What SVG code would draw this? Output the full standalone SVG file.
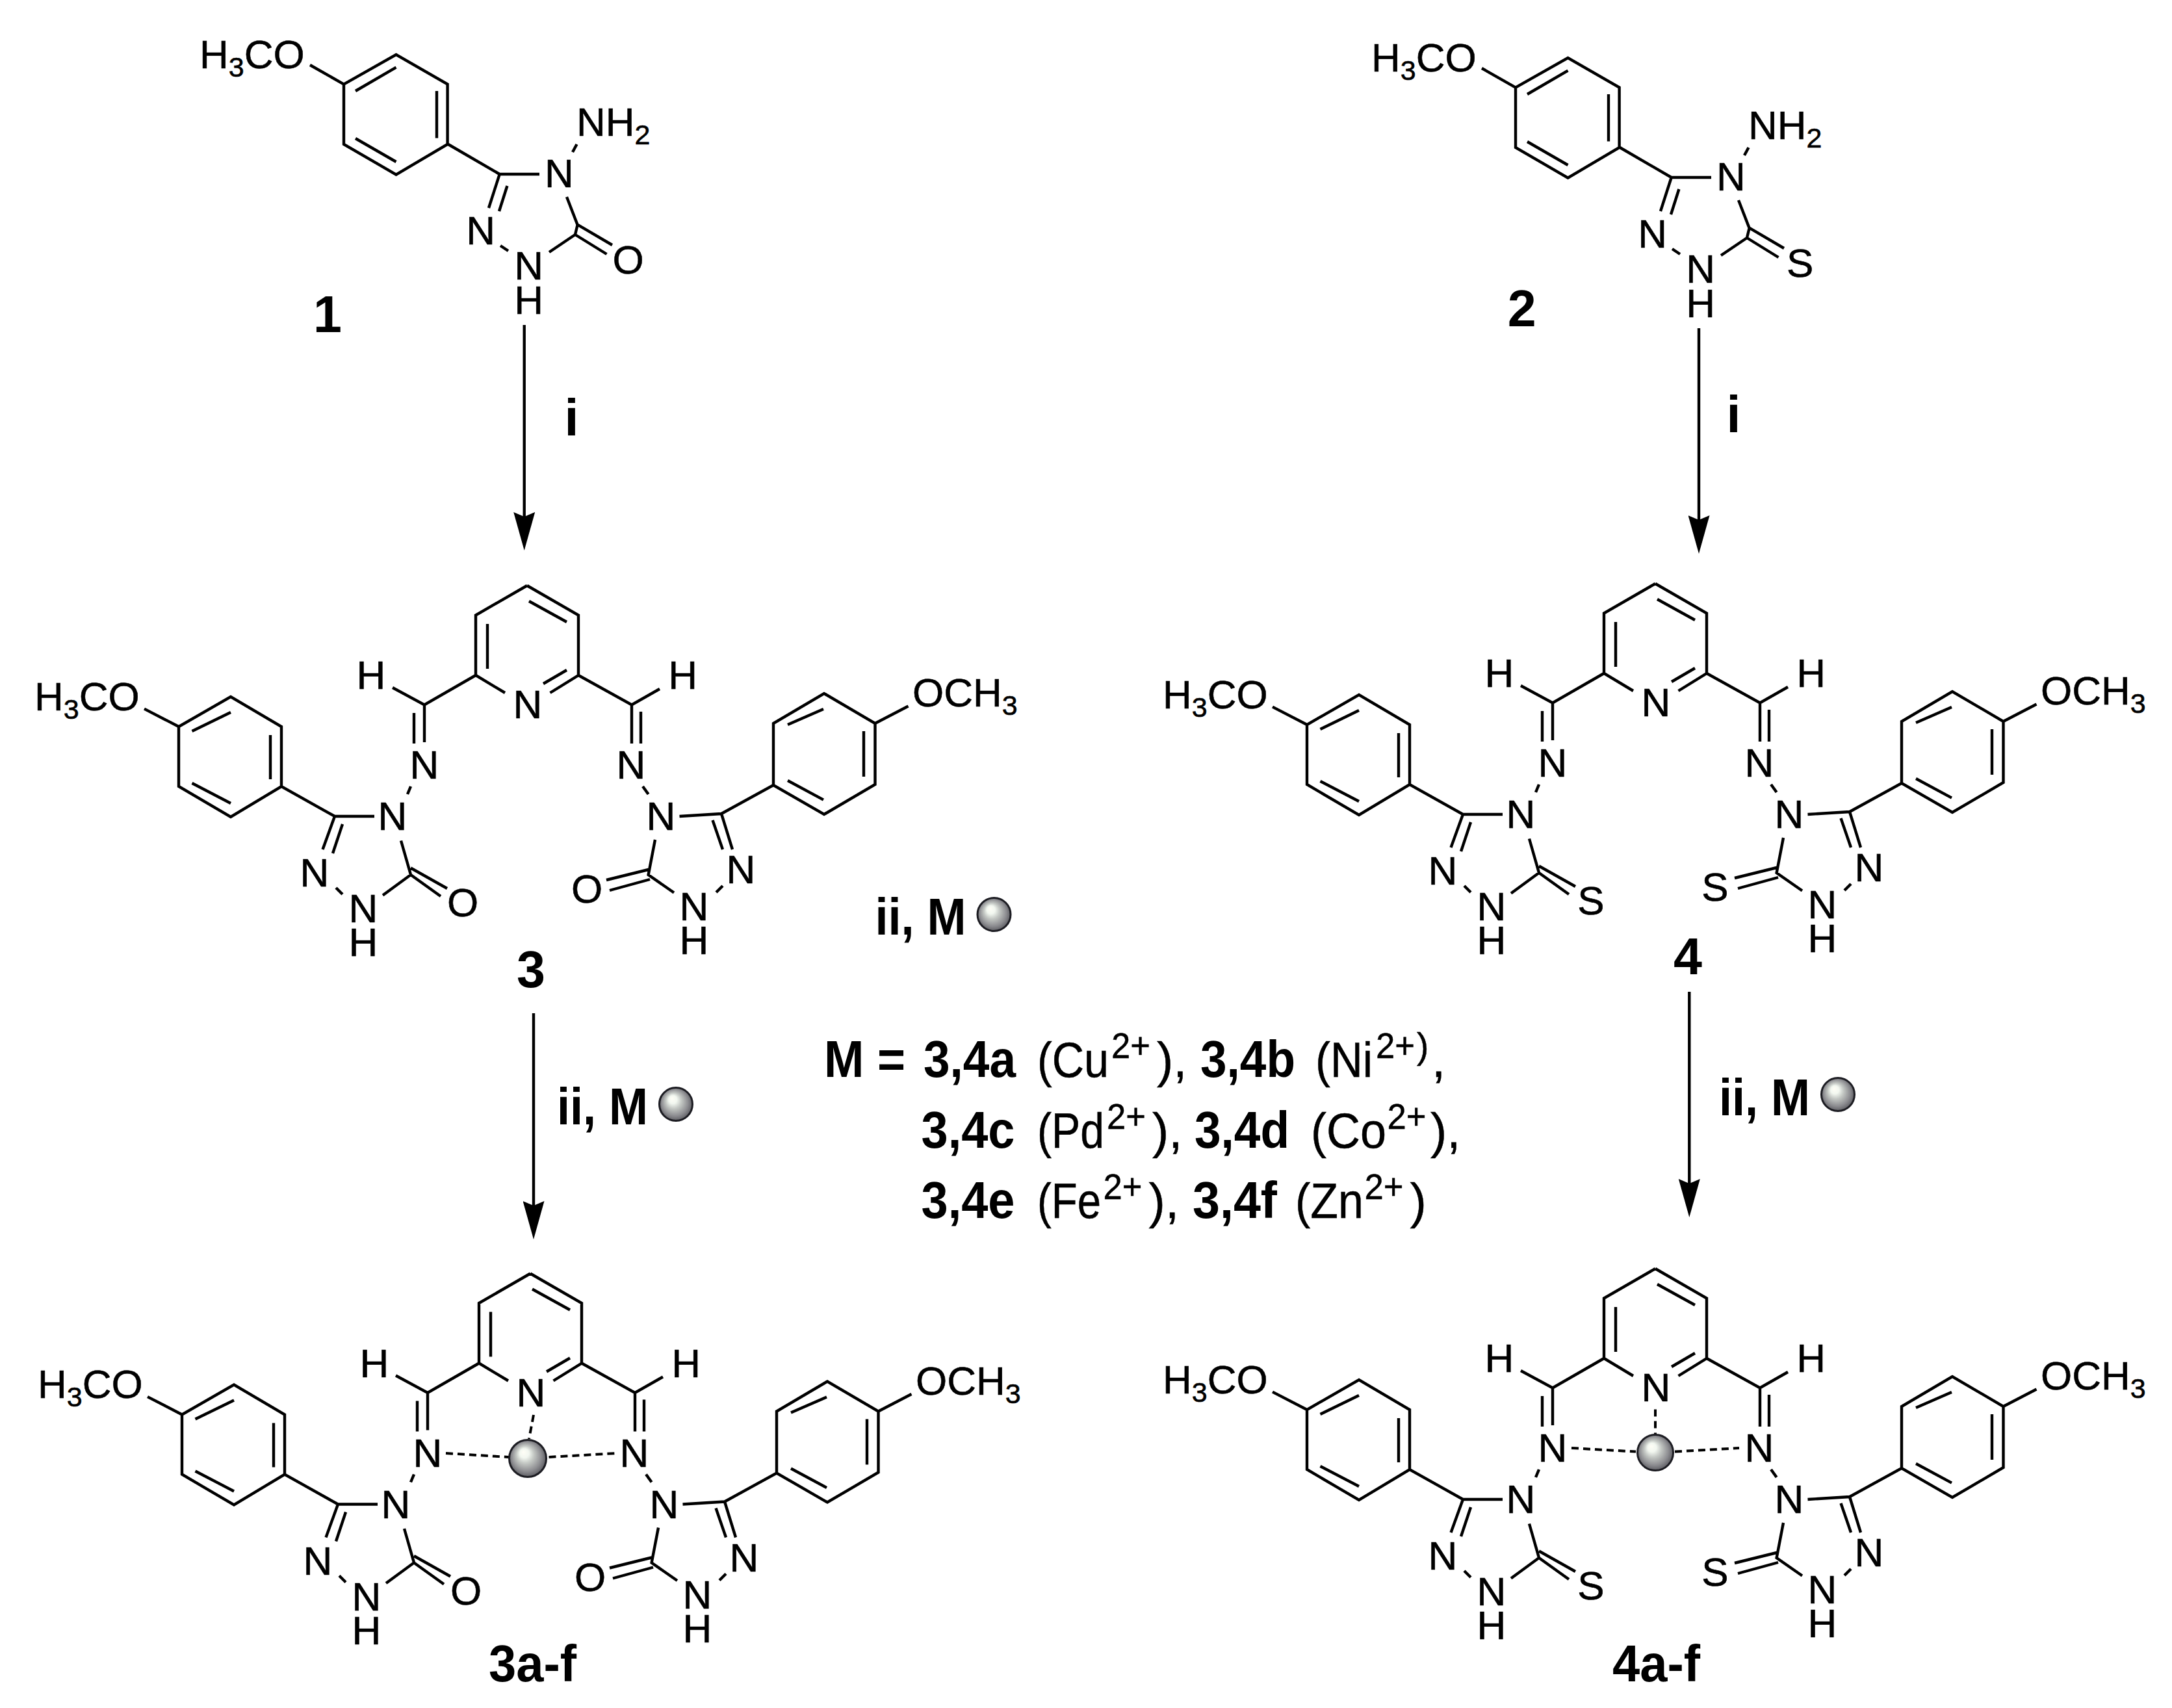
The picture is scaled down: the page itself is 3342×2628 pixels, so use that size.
<svg xmlns="http://www.w3.org/2000/svg" width="3342" height="2628" viewBox="0 0 3342 2628">
<style>
text{font-family:"Liberation Sans",Arial,sans-serif;fill:#000}
.a{font-size:62px;text-anchor:middle;stroke:#000;stroke-width:.6}
.s{font-size:62px;stroke:#000;stroke-width:.6}
.sub{font-size:43px}
.b{font-size:79px;font-weight:bold}
.c{text-anchor:middle}
.r{font-size:76px;stroke:#000;stroke-width:.5}
.sp{font-size:55px;stroke:#000;stroke-width:.5}
.bond{fill:none;stroke:#000;stroke-width:4.4;stroke-linejoin:miter;stroke-linecap:butt}
.dash{fill:none;stroke:#000;stroke-width:4;stroke-dasharray:11 7}
.arrow{stroke:#000;stroke-width:4.4;fill:none;marker-end:url(#head)}
.ball{fill:url(#sphere);stroke:#1c1c22;stroke-width:3}
</style>
<defs>
<marker id="head" markerUnits="userSpaceOnUse" markerWidth="59" markerHeight="33" refX="7" refY="16.5" orient="auto" viewBox="0 0 59 33"><path d="M59 16.5L0 0L7 16.5L0 33Z" fill="#000"/></marker>
<radialGradient id="sphere" cx="0.5" cy="0.5" r="0.56" fx="0.38" fy="0.32">
<stop offset="0" stop-color="#fffef6"/><stop offset="0.22" stop-color="#f2f7f0"/><stop offset="0.42" stop-color="#c4c8c4"/><stop offset="0.72" stop-color="#8c8c90"/><stop offset="1" stop-color="#4a4a50"/>
</radialGradient>
<path id="hydrazide" class="bond" d="M529 129.6L609.5 84L688.6 129.6V222L609.5 268.6L529 222ZM547 140L609.5 103.6M672 140V212.5M547 213L609.5 249M529 129.6L477 100M689.6 222L768.7 268H830M768.7 268L752 320M780.4 286L768 325M881 234L887.5 222M872 303L888.6 346L885 361L845 388M888.6 345.7L942 377M885 361L933.5 391M770 378L782 386"/>
<path id="ligand" class="bond" d="M811 901L732 946.5V1039L777 1066M811 901L890 946.5V1039L846.5 1066M814 925L872 957M750 960V1029M872 1031L836 1052M732 1039L653 1084.5L604 1058M890 1039L972 1084.5L1015 1060M653 1084.5V1142M637 1097V1144M972 1084.5V1144M986 1095V1144M632 1210L627 1222M989 1210L997.6 1222M576 1256H515L433 1210L355 1257L275 1210V1118L355 1072L433 1118V1210M295.5 1125L355 1096M416 1131V1199M295.5 1205L355 1236M275 1118L222 1090.6M515 1256L496.5 1307M527 1268L512 1313M517 1366L527 1376M589 1377.5L632 1346L617 1293.5M632 1335.5L688 1367M632 1346L678 1379M1045.5 1256L1110 1252L1190 1208L1268 1253L1346.5 1207V1113L1268 1067L1190 1113V1208M1212 1115L1267 1091M1329 1125V1195M1212 1201L1267 1230.6M1346.5 1113L1397.5 1086.5M1110 1252L1127 1307M1096.5 1262L1112 1307M1112 1363L1102 1373M1037 1373.5L997.6 1346L1008 1292M997.6 1338L933 1354M1000 1353L938 1370"/>
</defs>
<rect width="3342" height="2628" fill="#fff"/>

<g id="connectors">
<line class="arrow" x1="806.7" y1="500" x2="806.7" y2="795"/>
<line class="arrow" x1="2614" y1="505" x2="2614" y2="800"/>
<line class="arrow" x1="821" y1="1559" x2="821" y2="1855"/>
<line class="arrow" x1="2599.3" y1="1526" x2="2599.3" y2="1821"/>
</g>

<g id="compound-1">
<use href="#hydrazide"/>
<text class="s" x="307" y="105">H<tspan class="sub" dy="13">3</tspan><tspan dy="-13">CO</tspan></text>
<text class="s" x="887" y="209">NH<tspan class="sub" dy="13">2</tspan></text>
<text class="a" x="860.5" y="287.5">N</text>
<text class="a" x="739.6" y="375.7">N</text>
<text class="a" x="813.6" y="429.6">N</text>
<text class="a" x="813.6" y="483">H</text>
<text class="a" x="966.6" y="421">O</text>
<text class="b c" x="504" y="511">1</text>
</g>

<g id="compound-2" transform="translate(1803 5)">
<use href="#hydrazide"/>
<text class="s" x="307" y="105">H<tspan class="sub" dy="13">3</tspan><tspan dy="-13">CO</tspan></text>
<text class="s" x="887" y="209">NH<tspan class="sub" dy="13">2</tspan></text>
<text class="a" x="860.5" y="287.5">N</text>
<text class="a" x="739.6" y="375.7">N</text>
<text class="a" x="813.6" y="429.6">N</text>
<text class="a" x="813.6" y="483">H</text>
<text class="a" x="966.6" y="421">S</text>
<text class="b c" x="538.6" y="497">2</text>
</g>

<g id="label-i-left"><text class="b c" x="879.5" y="670">i</text></g>
<g id="label-i-right"><text class="b c" x="2667.5" y="665">i</text></g>

<g id="compound-3">
<use href="#ligand"/>
<text class="s" x="53" y="1092.6">H<tspan class="sub" dy="13">3</tspan><tspan dy="-13">CO</tspan></text>
<text class="s" x="1404" y="1087">OCH<tspan class="sub" dy="13">3</tspan></text>
<text class="a" x="571" y="1060">H</text><text class="a" x="1050.6" y="1060">H</text>
<text class="a" x="812" y="1105">N</text>
<text class="a" x="653" y="1198">N</text><text class="a" x="971" y="1198">N</text>
<text class="a" x="604" y="1277">N</text><text class="a" x="1017" y="1277">N</text>
<text class="a" x="484" y="1364">N</text><text class="a" x="559" y="1419">N</text><text class="a" x="559" y="1471">H</text><text class="a" x="712" y="1410">O</text>
<text class="a" x="1140" y="1359">N</text><text class="a" x="1068" y="1416">N</text><text class="a" x="1068" y="1468">H</text><text class="a" x="903" y="1389">O</text>
<text class="b c" x="817" y="1519">3</text>
</g>

<g id="compound-4" transform="translate(1736 -3)">
<use href="#ligand"/>
<text class="s" x="53" y="1092.6">H<tspan class="sub" dy="13">3</tspan><tspan dy="-13">CO</tspan></text>
<text class="s" x="1404" y="1087">OCH<tspan class="sub" dy="13">3</tspan></text>
<text class="a" x="571" y="1060">H</text><text class="a" x="1050.6" y="1060">H</text>
<text class="a" x="812" y="1105">N</text>
<text class="a" x="653" y="1198">N</text><text class="a" x="971" y="1198">N</text>
<text class="a" x="604" y="1277">N</text><text class="a" x="1017" y="1277">N</text>
<text class="a" x="484" y="1364">N</text><text class="a" x="559" y="1419">N</text><text class="a" x="559" y="1471">H</text><text class="a" x="712" y="1410">S</text>
<text class="a" x="1140" y="1359">N</text><text class="a" x="1068" y="1416">N</text><text class="a" x="1068" y="1468">H</text><text class="a" x="903" y="1389">S</text>
<text class="b c" x="861" y="1502">4</text>
</g>

<g id="reagent-top">
<text class="b" x="1346.6" y="1437.6" textLength="140" lengthAdjust="spacingAndGlyphs">ii, M</text>
<circle class="ball" cx="1529.5" cy="1407" r="25.5"/>
</g>
<g id="reagent-left">
<text class="b" x="857" y="1730" textLength="140" lengthAdjust="spacingAndGlyphs">ii, M</text>
<circle class="ball" cx="1040" cy="1699" r="25.5"/>
</g>
<g id="reagent-right">
<text class="b" x="2645" y="1716" textLength="140" lengthAdjust="spacingAndGlyphs">ii, M</text>
<circle class="ball" cx="2828" cy="1684" r="25.5"/>
</g>

<g id="metal-legend">
<text class="b" x="1268" y="1656.7" textLength="125" lengthAdjust="spacingAndGlyphs">M =</text>
<text class="b" x="1421" y="1656.7" textLength="142" lengthAdjust="spacingAndGlyphs">3,4a</text>
<text class="r" x="1596" y="1656.7" textLength="110" lengthAdjust="spacingAndGlyphs">(Cu</text>
<text class="sp" x="1710" y="1628" textLength="60" lengthAdjust="spacingAndGlyphs">2+</text>
<text class="r" x="1780" y="1656.7">),</text>
<text class="b" x="1847" y="1656.7" textLength="146" lengthAdjust="spacingAndGlyphs">3,4b</text>
<text class="r" x="2024" y="1656.7" textLength="88" lengthAdjust="spacingAndGlyphs">(Ni</text>
<text class="sp" x="2117" y="1628" textLength="60" lengthAdjust="spacingAndGlyphs">2+</text>
<text class="sp" x="2180" y="1628">)</text>
<text class="r" x="2203" y="1656.7">,</text>
<text class="b" x="1417.5" y="1765.7" textLength="144" lengthAdjust="spacingAndGlyphs">3,4c</text>
<text class="r" x="1596" y="1765.7" textLength="103" lengthAdjust="spacingAndGlyphs">(Pd</text>
<text class="sp" x="1703" y="1736.7" textLength="60" lengthAdjust="spacingAndGlyphs">2+</text>
<text class="r" x="1773" y="1765.7">),</text>
<text class="b" x="1838" y="1765.7" textLength="146" lengthAdjust="spacingAndGlyphs">3,4d</text>
<text class="r" x="2017" y="1765.7" textLength="116" lengthAdjust="spacingAndGlyphs">(Co</text>
<text class="sp" x="2134.5" y="1736.7" textLength="60" lengthAdjust="spacingAndGlyphs">2+</text>
<text class="r" x="2201" y="1765.7">),</text>
<text class="b" x="1417.5" y="1874" textLength="144" lengthAdjust="spacingAndGlyphs">3,4e</text>
<text class="r" x="1596" y="1874" textLength="98" lengthAdjust="spacingAndGlyphs">(Fe</text>
<text class="sp" x="1697.5" y="1845" textLength="60" lengthAdjust="spacingAndGlyphs">2+</text>
<text class="r" x="1767.6" y="1874">),</text>
<text class="b" x="1835" y="1874" textLength="130" lengthAdjust="spacingAndGlyphs">3,4f</text>
<text class="r" x="1993" y="1874" textLength="105" lengthAdjust="spacingAndGlyphs">(Zn</text>
<text class="sp" x="2099.5" y="1845" textLength="60" lengthAdjust="spacingAndGlyphs">2+</text>
<text class="r" x="2169.6" y="1874">)</text>
</g>

<g id="compound-3a-f">
<g transform="translate(5 1058.5)">
<use href="#ligand"/>
<text class="s" x="53" y="1092.6">H<tspan class="sub" dy="13">3</tspan><tspan dy="-13">CO</tspan></text>
<text class="s" x="1404" y="1087">OCH<tspan class="sub" dy="13">3</tspan></text>
<text class="a" x="571" y="1060">H</text><text class="a" x="1050.6" y="1060">H</text>
<text class="a" x="812" y="1105">N</text>
<text class="a" x="653" y="1198">N</text><text class="a" x="971" y="1198">N</text>
<text class="a" x="604" y="1277">N</text><text class="a" x="1017" y="1277">N</text>
<text class="a" x="484" y="1364">N</text><text class="a" x="559" y="1419">N</text><text class="a" x="559" y="1471">H</text><text class="a" x="712" y="1410">O</text>
<text class="a" x="1140" y="1359">N</text><text class="a" x="1068" y="1416">N</text><text class="a" x="1068" y="1468">H</text><text class="a" x="903" y="1389">O</text>
</g>
<path class="dash" d="M821 2177L814 2214M686 2236L783 2242M844.5 2242L948.6 2236"/>
<circle class="ball" cx="812" cy="2244" r="28.5"/>
<text class="b" x="752" y="2587" textLength="135" lengthAdjust="spacingAndGlyphs">3a-f</text>
</g>

<g id="compound-4a-f">
<g transform="translate(1736 1051)">
<use href="#ligand"/>
<text class="s" x="53" y="1092.6">H<tspan class="sub" dy="13">3</tspan><tspan dy="-13">CO</tspan></text>
<text class="s" x="1404" y="1087">OCH<tspan class="sub" dy="13">3</tspan></text>
<text class="a" x="571" y="1060">H</text><text class="a" x="1050.6" y="1060">H</text>
<text class="a" x="812" y="1105">N</text>
<text class="a" x="653" y="1198">N</text><text class="a" x="971" y="1198">N</text>
<text class="a" x="604" y="1277">N</text><text class="a" x="1017" y="1277">N</text>
<text class="a" x="484" y="1364">N</text><text class="a" x="559" y="1419">N</text><text class="a" x="559" y="1471">H</text><text class="a" x="712" y="1410">S</text>
<text class="a" x="1140" y="1359">N</text><text class="a" x="1068" y="1416">N</text><text class="a" x="1068" y="1468">H</text><text class="a" x="903" y="1389">S</text>
</g>
<path class="dash" d="M2547 2168.5V2207.5M2418 2228L2517 2233.6M2577 2233.6L2676 2228"/>
<circle class="ball" cx="2547" cy="2235" r="27.5"/>
<text class="b" x="2481" y="2587" textLength="135" lengthAdjust="spacingAndGlyphs">4a-f</text>
</g>
</svg>
